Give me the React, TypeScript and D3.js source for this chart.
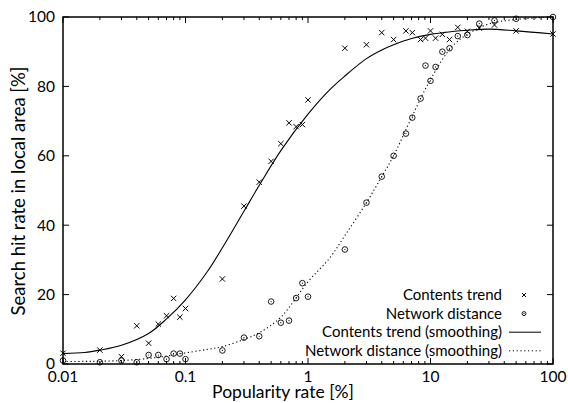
import React from 'react';
import * as d3 from 'd3';

// popularity rate [%] of each measured item
const popularity = [
  0.01, 0.02, 0.03, 0.04, 0.05, 0.06, 0.07, 0.08, 0.09, 0.1,
  0.2, 0.3, 0.4, 0.5, 0.6, 0.7, 0.8, 0.9, 1,
  2, 3, 4, 5, 6.3, 7.1, 8.3, 9.1, 10, 11, 12.5, 14.3, 16.7, 20, 25, 33.3, 50, 100,
];
const contentsTrend = [
  3.1, 4.0, 2.1, 11, 6.0, 11.5, 13.9, 18.9, 13.5, 16.0,
  24.5, 45.5, 52.4, 58.4, 63.5, 69.5, 68.4, 69.0, 76.1,
  91.0, 92.0, 95.5, 93.5, 96.0, 95.5, 93.5, 93.9, 96.0, 93.9, 95.0, 93.5, 97.0, 95.9, 96.8, 97.7, 96.0, 95.1,
];
const networkDistance = [
  1.0, 0.5, 1.0, 0.5, 2.6, 2.6, 1.4, 3.0, 3.0, 1.4,
  3.9, 7.6, 8.0, 18.0, 11.9, 12.5, 19.0, 23.3, 19.4,
  33.0, 46.5, 54.0, 60.0, 66.4, 71.0, 76.5, 86.0, 81.6, 85.6, 90.0, 91.0, 94.5, 94.8, 98.1, 99.0, 99.5, 100,
];

// smoothed curves
const smoothX = [0.01, 0.015, 0.02, 0.03, 0.05, 0.07, 0.1, 0.15, 0.2, 0.3, 0.4, 0.6, 1, 1.5, 2, 3, 4, 5, 7, 10, 15, 20, 30, 50, 100];
const contentsSmooth = [3.0, 3.3, 4.0, 5.4, 8.8, 13.0, 18.5, 26.5, 33.5, 44.0, 51.5, 61.5, 72.0, 79.0, 83.0, 88.0, 90.5, 92.0, 93.8, 95.0, 95.8, 96.2, 96.5, 96.0, 95.1];
const networkSmooth = [0.7, 0.75, 0.8, 1.0, 1.6, 2.3, 3.2, 4.2, 5.0, 7.1, 9.0, 13.5, 23.7, 30.5, 37.0, 46.5, 54.0, 60.0, 71.0, 82.0, 91.5, 95.0, 98.0, 99.3, 100];

const xTicks = [0.01, 0.1, 1, 10, 100];
const yTicks = [0, 20, 40, 60, 80, 100];

const legendLabels = [
  'Contents trend',
  'Network distance',
  'Contents trend (smoothing)',
  'Network distance (smoothing)',
];

const FONT = 'Lato, "Open Sans", sans-serif';

export default function App() {
  const W = 568;
  const H = 403;
  const left = 63, right = 553, top = 17, bottom = 364;
  const x = d3.scaleLog().domain([0.01, 100]).range([left, right]);
  const y = d3.scaleLinear().domain([0, 100]).range([bottom, top]);

  const minor: number[] = [];
  for (let d = 0.01; d < 100; d *= 10) {
    for (let k = 2; k <= 9; k++) minor.push(+(d * k).toPrecision(3));
  }

  const smooth = d3
    .line<[number, number]>()
    .x((d) => x(d[0]))
    .y((d) => y(d[1]))
    .curve(d3.curveCatmullRom.alpha(0.5));
  const contentsPath = smooth(smoothX.map((v, i) => [v, contentsSmooth[i]] as [number, number]));
  const networkPath = smooth(smoothX.map((v, i) => [v, networkSmooth[i]] as [number, number]));

  const cross = (cx: number, cy: number, s: number, key: string) => (
    <path key={key} d={`M${cx - s},${cy - s}L${cx + s},${cy + s}M${cx - s},${cy + s}L${cx + s},${cy - s}`} stroke="#000" strokeWidth={1} />
  );
  const circ = (cx: number, cy: number, r: number, key: string) => (
    <g key={key}>
      <circle cx={cx} cy={cy} r={r} fill="none" stroke="#000" strokeWidth={0.9} />
      <circle cx={cx} cy={cy} r={0.6} fill="#000" />
    </g>
  );

  const legendTextX = 502;
  const legendY0 = 295;
  const legendDy = 18.6;

  return (
    <svg width={W} height={H} style={{ position: 'absolute', left: 0, top: 0, background: '#fff' }} fontFamily={FONT}>
      <rect width={W} height={H} fill="#fff" />

      {/* smoothed curves */}
      <path d={contentsPath || ''} fill="none" stroke="#000" strokeWidth={1.1} />
      <path d={networkPath || ''} fill="none" stroke="#000" strokeWidth={1.1} strokeDasharray="1.2,2.6" />

      {/* points */}
      {popularity.map((p, i) => cross(x(p), y(contentsTrend[i]), 2.7, 'c' + i))}
      {popularity.map((p, i) => circ(x(p), y(networkDistance[i]), 2.8, 'n' + i))}

      {/* frame */}
      <rect x={left} y={top} width={right - left} height={bottom - top} fill="none" stroke="#000" strokeWidth={1.5} />

      {/* x ticks */}
      {xTicks.map((t) => (
        <g key={'xt' + t}>
          <line x1={x(t)} x2={x(t)} y1={bottom} y2={bottom - 6} stroke="#000" />
          <line x1={x(t)} x2={x(t)} y1={top} y2={top + 6} stroke="#000" />
          <text x={x(t)} y={bottom + 18} textAnchor="middle" fontSize={15.5}>
            {t}
          </text>
        </g>
      ))}
      {minor.map((t) => (
        <g key={'xm' + t}>
          <line x1={x(t)} x2={x(t)} y1={bottom} y2={bottom - 3} stroke="#000" />
          <line x1={x(t)} x2={x(t)} y1={top} y2={top + 3} stroke="#000" />
        </g>
      ))}

      {/* y ticks */}
      {yTicks.map((t) => (
        <g key={'yt' + t}>
          <line x1={left} x2={left + 6} y1={y(t)} y2={y(t)} stroke="#000" />
          <line x1={right} x2={right - 6} y1={y(t)} y2={y(t)} stroke="#000" />
          <text x={left - 8} y={y(t)} dy="0.35em" textAnchor="end" fontSize={15.5}>
            {t}
          </text>
        </g>
      ))}

      {/* axis titles */}
      <text x={283} y={398} textAnchor="middle" fontSize={17.5}>
        Popularity rate [%]
      </text>
      <text transform={`translate(25,${191}) rotate(-90)`} textAnchor="middle" fontSize={18.5}>
        Search hit rate in local area [%]
      </text>

      {/* legend */}
      {legendLabels.map((label, i) => {
        const ly = legendY0 + i * legendDy;
        return (
          <g key={'lg' + i}>
            <text x={legendTextX} y={ly} dy="0.35em" textAnchor="end" fontSize={15}>
              {label}
            </text>
            {i === 0 && cross(524, ly, 2, 'lc')}
            {i === 1 && circ(524, ly, 2, 'ln')}
            {i === 2 && <line x1={509} x2={541} y1={ly} y2={ly} stroke="#000" />}
            {i === 3 && <line x1={509} x2={541} y1={ly} y2={ly} stroke="#000" strokeDasharray="1.2,2.6" />}
          </g>
        );
      })}
    </svg>
  );
}
